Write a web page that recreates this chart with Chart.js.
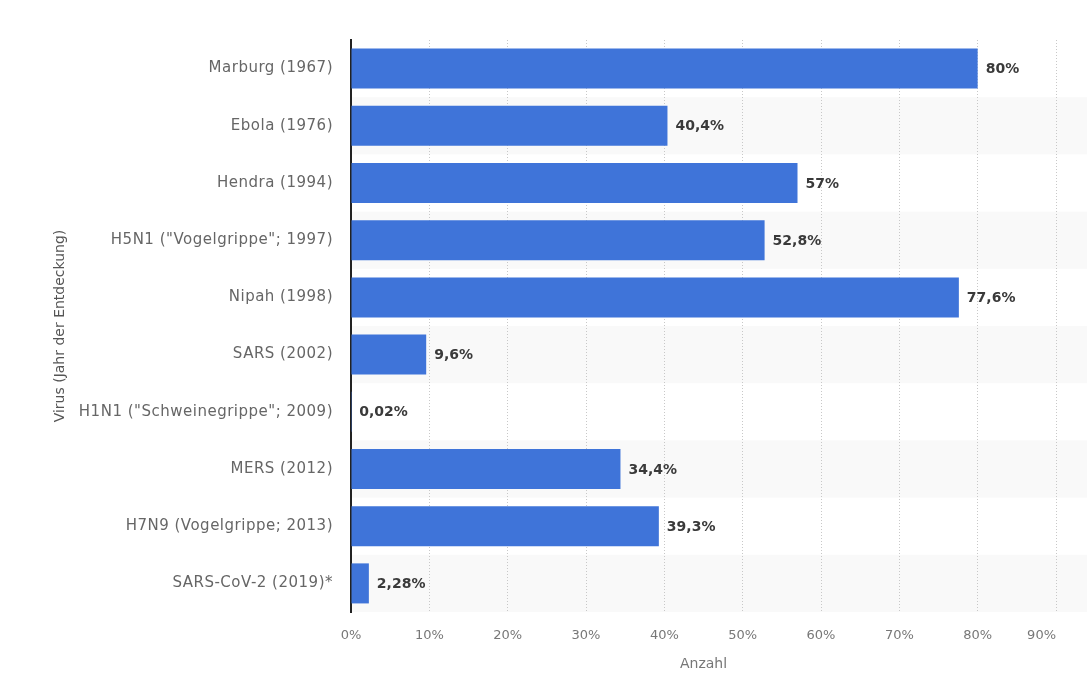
<!DOCTYPE html>
<html><head><meta charset="utf-8">
<script src="https://cdn.jsdelivr.net/npm/chart.js@4.4.1/dist/chart.umd.min.js"></script>
<style>html,body{margin:0;padding:0;background:#fff}#wrap{width:1088px;height:697px}</style>
</head><body><div id="wrap"><canvas id="c" width="1088" height="697"></canvas></div>
<script>
const categories = ['Marburg (1967)','Ebola (1976)','Hendra (1994)','H5N1 ("Vogelgrippe"; 1997)','Nipah (1998)','SARS (2002)','H1N1 ("Schweinegrippe"; 2009)','MERS (2012)','H7N9 (Vogelgrippe; 2013)','SARS-CoV-2 (2019)*'];
const values = [80, 40.4, 57, 52.8, 77.6, 9.6, 0.02, 34.4, 39.3, 2.28];
const valueLabels = ['80%','40,4%','57%','52,8%','77,6%','9,6%','0,02%','34,4%','39,3%','2,28%'];
const xTicks = [0,10,20,30,40,50,60,70,80,90];
const FONT = "'DejaVu Sans', sans-serif";

const bandsBefore = {
  id:'bandsBefore',
  beforeDraw(chart){
    const {ctx, chartArea:a, scales:{y}} = chart;
    const step = (y.getPixelForValue(1) - y.getPixelForValue(0));
    ctx.save(); ctx.fillStyle = '#f9f9f9';
    categories.forEach((c,i)=>{ if(i%2===1){ const cy=y.getPixelForValue(i); ctx.fillRect(a.left, cy-step/2, a.right-a.left+31, step);} });
    ctx.restore();
  }
};
const labelsPlugin = {
  id:'vlabels',
  afterDatasetsDraw(chart){
    const {ctx} = chart; const meta = chart.getDatasetMeta(0);
    ctx.save(); ctx.font = "bold 14px " + FONT; ctx.fillStyle = '#3a3a3a'; ctx.textBaseline='middle'; ctx.textAlign='left';
    meta.data.forEach((bar,i)=>{ ctx.fillText(valueLabels[i], bar.x + 8, bar.y + 1); });
    ctx.restore();
  }
};
const scaleTweaks = {
  id:'scaleTweaks',
  afterLayout(chart){
    const s = chart.scales.x;
    if (!s._wrappedLI) {
      const orig = s.getLabelItems.bind(s);
      s.getLabelItems = function(area){ const items = orig(area); if(items.length){ items[items.length-1].options.textAlign='right'; } return items; };
      s._wrappedLI = true;
    }
    const y = chart.scales.y;
    if (!y._wrappedDL) {
      const od = y.drawLabels.bind(y);
      y.drawLabels = function(area){ const c = this.ctx; const prev = c.letterSpacing; c.letterSpacing = '0.5px'; od(area); c.letterSpacing = prev || '0px'; };
      y._wrappedDL = true;
    }
  }
};

new Chart(document.getElementById('c'), {
  type:'bar',
  data:{ labels: categories, datasets:[{ data: values, backgroundColor:'#3f74d9', barPercentage:0.7, categoryPercentage:1.0 }] },
  options:{
    indexAxis:'y', responsive:false, animation:false,
    layout:{ padding:{ left:50, right:32, top:40, bottom:20 } },
    plugins:{ legend:{display:false}, tooltip:{enabled:false} },
    scales:{
      x:{ min:0, max:90, afterBuildTicks(s){ s.ticks = xTicks.map(v=>({value:v})); },
        afterFit(s){ s.height = 65; },
        grid:{ color:'#c8c8c8', borderDash:[1,2], drawTicks:false, lineWidth:1 },
        border:{ display:false, dash:[1,2] },
        ticks:{ padding:16, color:'#777', font:{ family:FONT, size:13 }, callback:(v)=>v+'%' },
        title:{ display:true, text:'Anzahl', color:'#777', font:{ family:FONT, size:14 }, padding:{top:4,bottom:4} }
      },
      y:{ afterFit(s){ s.width = 301; },
        grid:{ display:false, drawTicks:false },
        border:{ display:true, color:'#222', width:2 },
        ticks:{ padding:18, color:'#666', font:{ family:FONT, size:15 } },
        title:{ display:true, text:'Virus (Jahr der Entdeckung)', color:'#555', font:{ family:FONT, size:14 }, padding:{top:2,bottom:4} }
      }
    }
  },
  plugins:[bandsBefore, labelsPlugin, scaleTweaks]
});
</script></body></html>
